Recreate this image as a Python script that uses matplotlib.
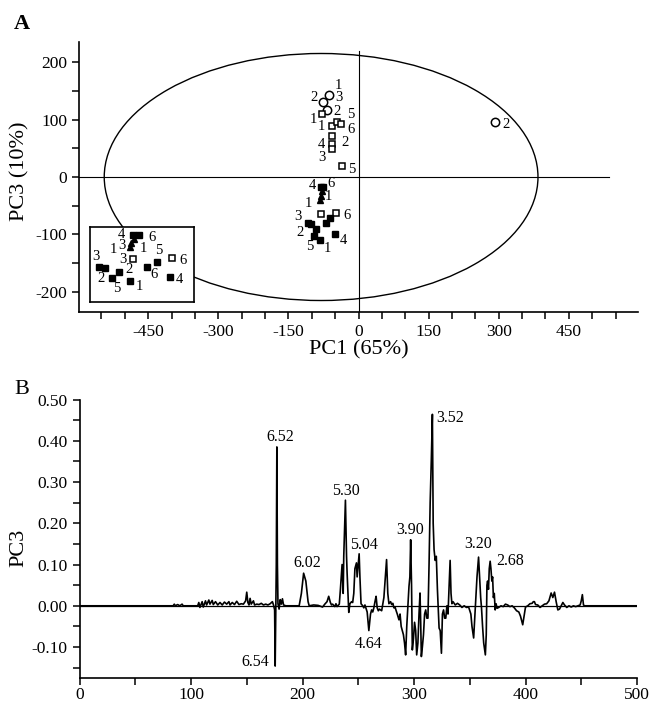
import matplotlib
matplotlib.use("Agg")
import matplotlib.pyplot as plt
from matplotlib.patches import Ellipse
from matplotlib.ticker import MultipleLocator, FuncFormatter

plt.rcParams['font.family'] = ['Liberation Serif', 'DejaVu Serif']
plt.rcParams['axes.unicode_minus'] = False

# ---- panel A: PCA scores (PC1 vs PC3) ----
circ_x = [-63, -75, -68, 293]
circ_y = [142, 130, 117, 95]

open_up_x = [-79, -57, -45, -37, -57, -57, -57, -36]
open_up_y = [110, 88, 96, 92, 71, 57, 48, 20]

open_lo_x = [-80, -49]
open_lo_y = [-65, -63]

filled_x = [-80, -75, -107, -102, -96, -91, -82, -69, -61, -50]
filled_y = [-17, -17, -80, -82, -102, -91, -109, -80, -71, -100]

tri_x = [-79, -81, -82]
tri_y = [-25, -33, -40]

# labels: (group, index, text, dx px, dy px)
main_labels = [
    ('circ', 0, '1', 9, 10), ('circ', 1, '2', -9, 5), ('circ', 2, '3', 12, 12),
    ('circ', 3, '2', 11, -2),
    ('open_up', 0, '1', -8, -6), ('open_up', 1, '1', -10, 0), ('open_up', 2, '2', 0, 10),
    ('open_up', 3, '5', 10, 10), ('open_up', 3, '6', 10, -5), ('open_up', 4, '2', 13, -6),
    ('open_up', 5, '4', -10, 0), ('open_up', 6, '3', -10, -8), ('open_up', 7, '5', 10, -4),
    ('open_lo', 1, '6', 11, -2),
    ('filled', 0, '4', -9, 1), ('filled', 1, '6', 8, 3), ('filled', 2, '3', -11, 6),
    ('filled', 4, '2', -14, 3), ('filled', 6, '5', -10, -7), ('filled', 6, '1', 7, -9),
    ('filled', 9, '4', 8, -6),
    ('tri', 1, '1', 8, -1), ('tri', 2, '1', -12, -4),
]

inset_labels = [
    ('filled', 0, '4', -11, 1), ('filled', 1, '6', 13, -2), ('filled', 2, '3', -3, 10),
    ('filled', 4, '2', -11, -1), ('filled', 4, '5', 4, -11), ('filled', 5, '2', 10, 3),
    ('filled', 6, '1', 9, -5), ('filled', 8, '5', 2, 12), ('filled', 7, '6', 7, -8),
    ('filled', 9, '4', 9, -3),
    ('tri', 1, '3', -9, -2), ('tri', 2, '1', -17, -3), ('tri', 2, '1', 13, -2),
    ('open_lo', 0, '3', -10, 0), ('open_lo', 1, '6', 11, -2),
]

# ---- panel B: PC3 loadings ----
spec_x = [0, 84, 85, 86, 88, 90, 92, 93, 106, 107, 108, 110, 111, 113, 114, 116, 117, 119,
          120, 122, 124, 126, 128, 130, 132, 134, 135, 137, 139, 141, 143, 145, 147, 149,
          150, 151, 152, 153, 154, 156, 157, 159, 161, 163, 165, 167, 169, 171, 173, 174,
          175, 175.5, 176, 176.5, 177, 177.5, 178, 179, 180, 181, 182, 183, 185, 197, 199,
          201, 203, 205, 206, 210, 214, 218, 220, 222, 223.5, 225, 226, 227, 229, 230, 231,
          233, 234, 235.5, 236.5, 237, 238.5, 239.5, 240, 241.5, 242.5, 244, 245, 246, 247,
          248.4, 249, 250.8, 251.5, 252.5, 254, 255, 256, 258, 259.5, 261, 262, 263, 264,
          265, 266, 267, 268, 269, 271, 273, 275.4, 276.5, 277.5, 279, 280, 281, 282, 283,
          284, 285, 286.5, 287.5, 288.5, 289.5, 290.5, 291.5, 292.5, 293.5, 294.5, 295.5,
          296.3, 297, 297.8, 298.5, 299.5, 300.5, 301.5, 302.4, 303.5, 304.5, 305.4, 306,
          306.6, 307.5, 308.5, 309.5, 310.5, 311.5, 312.5, 313.5, 314.5, 315.5, 316.5, 317.2,
          318, 319, 320, 321, 322.5, 323.5, 324.6, 325.5, 326.5, 327.5, 328.5, 329.5, 330.5,
          331.5, 332.4, 333.2, 334, 335, 337, 339, 341, 343, 345, 347, 349, 351, 352, 353.5,
          354.5, 355.5, 356.5, 357.9, 358.8, 359.8, 360.5, 361.5, 362.5, 364, 364.8, 365.4,
          366, 366.8, 367.5, 368.3, 369, 369.8, 370.5, 371.2, 372, 372.8, 373.6, 374.5, 376,
          378, 380, 382, 384, 386, 388, 390, 392, 394, 395.5, 397.5, 399, 400, 402, 404, 406,
          407, 408, 409, 411, 413, 415, 417, 419, 421, 423, 424.5, 426, 427.5, 429, 430.5,
          432, 433.5, 435, 437, 439, 441, 443, 445, 447, 449, 450, 451, 452, 453, 500]
spec_y = [0, 0, 0.004, 0, 0.003, 0, 0.004, 0, 0, 0.008, -0.004, 0.010, -0.003, 0.012, 0.002,
          0.014, 0.004, 0.013, 0.003, 0.010, 0.002, 0.008, 0.002, 0.009, 0.004, 0.010, 0.002,
          0.008, 0.003, 0.011, 0.003, 0.005, 0.004, 0.012, 0.033, 0.008, 0.002, 0.018, 0.004,
          0.012, 0.002, 0.004, 0.003, 0.006, 0.002, 0.004, 0.002, 0.005, 0.010, 0.002,
          -0.010, -0.146, -0.02, 0.10, 0.385, 0.10, 0.005, -0.008, 0.015, 0.004, 0.017, 0.002,
          0, 0, 0.030, 0.079, 0.060, 0.010, 0.0, 0.002, 0.001, -0.003, 0.004, 0.010, 0.023,
          0.008, 0.002, 0.004, -0.002, 0.005, -0.002, 0.004, 0.04, 0.10, 0.03, 0.12, 0.256,
          0.12, 0.08, -0.016, 0.005, 0.01, 0.008, 0.03, 0.09, 0.104, 0.07, 0.126, 0.07, 0.005,
          0.0, -0.005, 0.002, -0.015, -0.06, -0.02, -0.01, -0.015, -0.005, 0.01, 0.023,
          -0.005, -0.012, -0.008, -0.012, 0.02, 0.112, 0.03, 0.005, 0.01, 0.003, 0.006,
          -0.005, -0.003, -0.012, -0.02, -0.034, -0.02, -0.05, -0.06, -0.07, -0.09, -0.119,
          -0.05, 0.0, 0.047, 0.07, 0.16, 0.05, -0.107, -0.08, -0.04, -0.06, -0.119, -0.09,
          -0.02, 0.031, -0.04, -0.123, -0.10, -0.07, -0.02, -0.01, -0.03, -0.03, 0.10, 0.25,
          0.35, 0.464, 0.20, 0.136, 0.11, 0.12, 0.04, -0.054, -0.06, -0.115, -0.02, -0.01,
          -0.03, -0.03, 0.0, -0.02, 0.05, 0.11, 0.03, 0.005, 0.01, 0.002, 0.006, 0.002,
          -0.004, 0.0, -0.004, -0.003, -0.02, -0.05, -0.078, -0.03, 0.02, 0.07, 0.118, 0.07,
          0.02, -0.003, -0.05, -0.09, -0.119, -0.07, 0.05, 0.06, 0.04, 0.09, 0.108, 0.09,
          0.06, 0.07, 0.02, 0.03, -0.01, 0.005, -0.006, -0.004, 0.0, -0.002, 0.004, 0.002,
          -0.002, 0.0, -0.005, -0.012, -0.015, -0.025, -0.046, -0.02, -0.003, 0.0, 0.005,
          0.006, 0.01, 0.01, 0.003, 0.002, -0.004, 0.0, 0.004, 0.005, 0.012, 0.031, 0.02,
          0.033, 0.01, -0.01, -0.008, 0.0, 0.008, 0.002, -0.004, 0.0, -0.003, 0.0, -0.002,
          0.0, 0.002, 0.012, 0.027, 0.002, 0, 0]

peak_x = [177, 175.5, 201, 238.5, 250.8, 259.5, 297, 316.5, 357.9, 368.3]
peak_y = [0.385, -0.146, 0.079, 0.256, 0.126, -0.06, 0.16, 0.464, 0.118, 0.108]
peak_txt = ['6.52', '6.54', '6.02', '5.30', '5.04', '4.64', '3.90', '3.52', '3.20', '2.68']
peak_off = [(3, 10), (-20, 4), (4, 10), (1, 9), (5, 9), (0, -13), (-1, 10), (18, -4),
            (0, 13), (20, 0)]

groups = {
    'circ': (circ_x, circ_y),
    'open_up': (open_up_x, open_up_y),
    'open_lo': (open_lo_x, open_lo_y),
    'filled': (filled_x, filled_y),
    'tri': (tri_x, tri_y),
}


def draw_scores(ax, keys, ms):
    for k in keys:
        xs, ys = groups[k]
        if k == 'circ':
            ax.plot(xs, ys, 'o', ms=ms + 1, mfc='white', mec='black', mew=1.1, ls='none', zorder=3)
        elif k in ('open_up', 'open_lo'):
            ax.plot(xs, ys, 's', ms=ms, mfc='white', mec='black', mew=1.1, ls='none', zorder=3)
        elif k == 'filled':
            ax.plot(xs, ys, 's', ms=ms, color='black', ls='none', zorder=3)
        else:
            ax.plot(xs, ys, '^', ms=ms, color='black', ls='none', zorder=3)


def draw_labels(ax, labels):
    for k, i, t, dx, dy in labels:
        xs, ys = groups[k]
        ax.annotate(t, (xs[i], ys[i]), xytext=(dx, dy), textcoords='offset pixels',
                    ha='center', va='center', fontsize=10.5, zorder=4)


fig = plt.figure(figsize=(6.54, 7.03), dpi=100)

axA = fig.add_axes([79 / 654, 391 / 703, 559 / 654, 270 / 703])
axA.set_xlim(-598, 598)
axA.set_ylim(-235, 235)
axA.add_patch(Ellipse((-80, 0), 2 * 464, 2 * 215, fill=False, ec='black', lw=1.0, zorder=1))
axA.plot([-598, 535], [0, 0], color='black', lw=0.8, zorder=1)
axA.plot([0, 0], [-235, 220], color='black', lw=0.8, zorder=1)
draw_scores(axA, ['circ', 'open_up', 'open_lo', 'filled', 'tri'], 5)
draw_labels(axA, main_labels)

for s in ['top', 'right']:
    axA.spines[s].set_visible(False)
for s in ['left', 'bottom']:
    axA.spines[s].set_linewidth(1.2)
axA.xaxis.set_major_locator(MultipleLocator(50))
axA.yaxis.set_major_locator(MultipleLocator(50))
axA.xaxis.set_major_formatter(FuncFormatter(lambda v, p: '%d' % v if round(v) % 150 == 0 else ''))
axA.yaxis.set_major_formatter(FuncFormatter(lambda v, p: '%d' % v if round(v) % 100 == 0 else ''))
axA.tick_params(direction='out', length=5, width=1.1, labelsize=12.5)
axA.set_xlabel('PC1 (65%)', fontsize=16)
axA.set_ylabel('PC3 (10%)', fontsize=16)
axA.xaxis.set_label_coords(0.5, -0.105)
axA.yaxis.set_label_coords(-0.088, 0.52)

# inset zoom on the lower cluster
ins = axA.inset_axes([-575, -217, 224, 130], transform=axA.transData, zorder=5)
ins.set_facecolor('white')
ins.set_xlim(-114, -31)
ins.set_ylim(-150, 0)
ins.set_xticks([])
ins.set_yticks([])
for s in ins.spines.values():
    s.set_linewidth(1.2)
draw_scores(ins, ['open_lo', 'filled', 'tri'], 5)
draw_labels(ins, inset_labels)

# ---- panel B ----
axB = fig.add_axes([79.5 / 654, 25 / 703, 557.5 / 654, 278.5 / 703])
axB.set_xlim(0, 500)
axB.set_ylim(-0.175, 0.50)
axB.axhline(0, color='black', lw=0.9, zorder=1)
axB.plot(spec_x, spec_y, color='black', lw=1.2, zorder=2)
for px, py, t, (dx, dy) in zip(peak_x, peak_y, peak_txt, peak_off):
    axB.annotate(t, (px, py), xytext=(dx, dy), textcoords='offset pixels',
                 ha='center', va='center', fontsize=11.5)

for s in ['top', 'right']:
    axB.spines[s].set_visible(False)
for s in ['left', 'bottom']:
    axB.spines[s].set_linewidth(1.2)
axB.xaxis.set_major_locator(MultipleLocator(50))
axB.yaxis.set_major_locator(MultipleLocator(0.05))
axB.xaxis.set_major_formatter(FuncFormatter(lambda v, p: '%d' % v if round(v) % 100 == 0 else ''))
axB.yaxis.set_major_formatter(FuncFormatter(lambda v, p: '%.2f' % v if round(v * 100) % 10 == 0 else ''))
axB.tick_params(direction='out', length=5, width=1.1, labelsize=12.5)
axB.tick_params(axis='x', pad=1.5)
axB.set_ylabel('PC3', fontsize=16)
axB.yaxis.set_label_coords(-0.092, 0.467)

fig.text(22 / 654, 1 - 24 / 703, 'A', fontsize=16, fontweight='bold', ha='center', va='center')
fig.text(22 / 654, 1 - 390 / 703, 'B', fontsize=16, ha='center', va='center')

fig.savefig('out.png', dpi=100)
